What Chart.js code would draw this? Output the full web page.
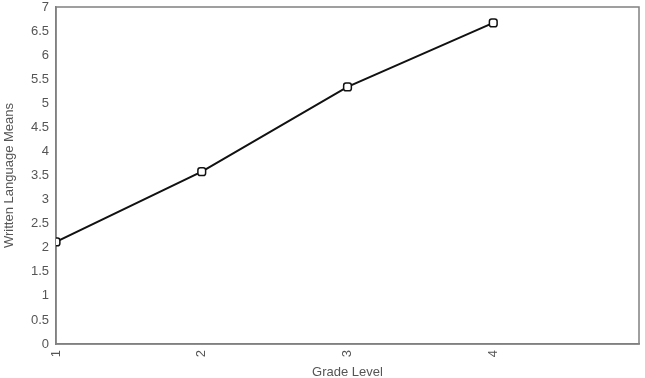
<!DOCTYPE html>
<html>
<head>
<meta charset="utf-8">
<script src="https://cdn.jsdelivr.net/npm/chart.js@4"></script>
<style>
  html, body { margin: 0; padding: 0; background: #fff; }
  #wrap { width: 645px; height: 378px; }
</style>
</head>
<body>
<div id="wrap"><canvas id="chart"></canvas></div>
<script>
// Data
const grades = [1, 2, 3, 4];
const means = [2.12, 3.58, 5.34, 6.67];
const yTicks = [0, 0.5, 1, 1.5, 2, 2.5, 3, 3.5, 4, 4.5, 5, 5.5, 6, 6.5, 7];

// Box around the plot area
const frame = {
    id: 'frame',
    beforeDatasetsDraw(chart) {
        const a = chart.chartArea;
        const ctx = chart.ctx;
        ctx.save();
        ctx.strokeStyle = '#808080';
        ctx.lineWidth = 1.5;
        ctx.strokeRect(a.left, a.top, a.right - a.left, a.bottom - a.top);
        ctx.restore();
    }
};

const font = { family: 'Liberation Sans, Arial, sans-serif', size: 13 };

new Chart(document.getElementById('chart'), {
    type: 'line',
    data: {
        datasets: [{
            data: grades.map((g, i) => ({ x: g, y: means[i] })),
            borderColor: '#111',
            borderWidth: 2,
            pointStyle: 'rectRounded',
            pointRadius: 4.5,
            pointBorderWidth: 1.5,
            pointBackgroundColor: '#fff',
            pointBorderColor: '#111',
            tension: 0
        }]
    },
    options: {
        responsive: true,
        maintainAspectRatio: false,
        animation: false,
        layout: { padding: { top: 7, right: 1, left: 2, bottom: -2 } },
        plugins: { legend: { display: false }, tooltip: { enabled: false } },
        scales: {
            x: {
                type: 'linear',
                min: 1,
                max: 5,
                afterBuildTicks(axis) {
                    axis.ticks = grades.map(v => ({ value: v }));
                },
                afterFit(axis) {
                    axis.height = 36;
                    axis.paddingLeft = 0;
                    axis.paddingRight = 0;
                },
                grid: { display: false, drawTicks: true, tickLength: 5, tickColor: '#666' },
                border: { display: true, color: '#808080', width: 1.5 },
                ticks: { color: '#555', font: font, minRotation: 90, maxRotation: 90, padding: 1 },
                title: { display: true, text: 'Grade Level', color: '#555', font: font, padding: { top: 0, bottom: 0 } }
            },
            y: {
                min: 0,
                max: 7,
                afterBuildTicks(axis) {
                    axis.ticks = yTicks.map(v => ({ value: v }));
                },
                afterFit(axis) {
                    axis.width = 54;
                    axis.paddingTop = 0;
                    axis.paddingBottom = 0;
                },
                grid: { display: false, drawTicks: true, tickLength: 5, tickColor: '#666' },
                border: { display: true, color: '#808080', width: 1.5 },
                ticks: { color: '#555', font: font, padding: 2, callback: v => String(v) },
                title: { display: true, text: 'Written Language Means', color: '#555', font: font, padding: { top: 0, bottom: 0 } }
            }
        }
    },
    plugins: [frame]
});
</script>
</body>
</html>
